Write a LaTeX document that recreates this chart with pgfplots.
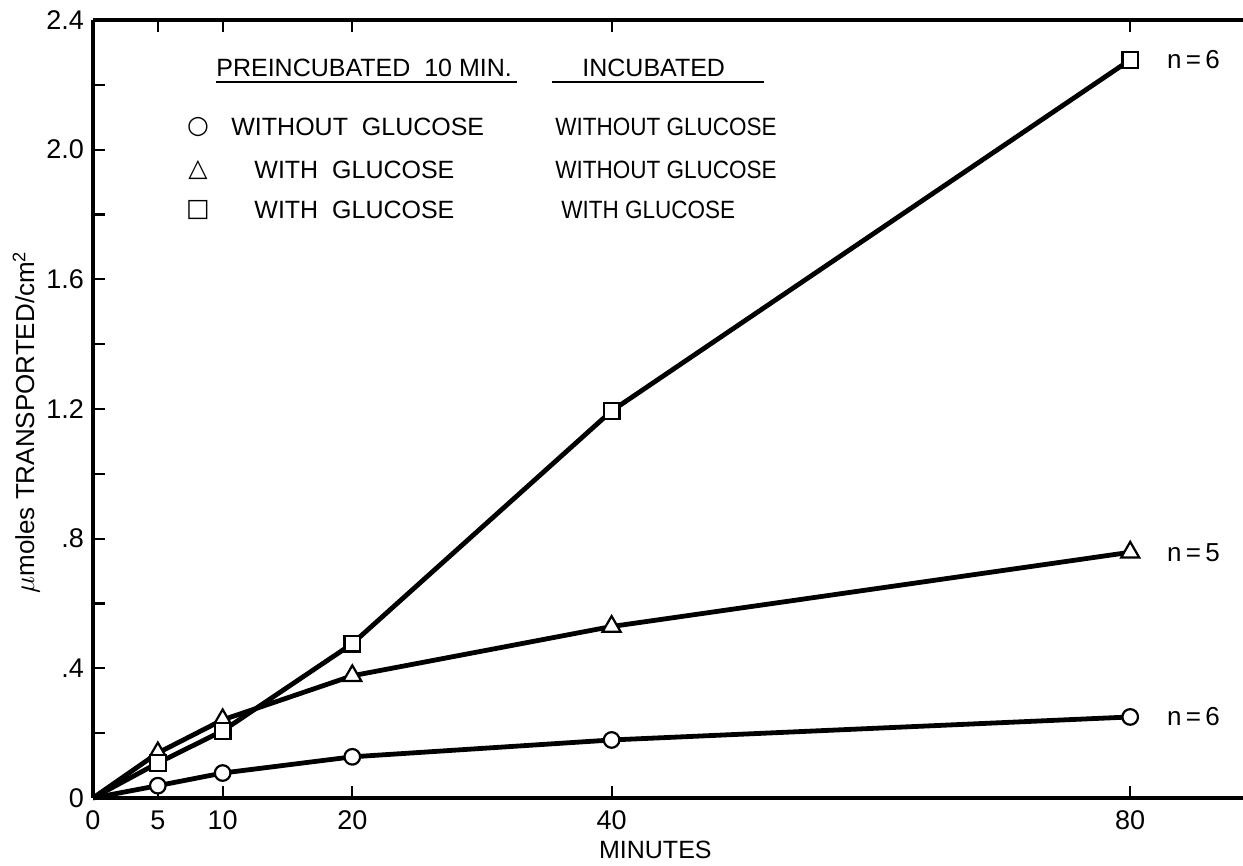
\documentclass[border=0pt]{standalone}
\usepackage{pgfplots}
\pgfplotsset{compat=1.18}
\usepackage{fontspec}
\setmainfont{Liberation Sans}
\newfontfamily\symfont{DejaVu Sans}

\begin{document}
\begin{tikzpicture}
\begin{axis}[
  scale only axis, width=575pt, height=389pt,
  xmin=0, xmax=88.7, ymin=0, ymax=2.4,
  axis x line*=box, axis y line*=left,
  xtick={0,5,10,20,40,80}, xtick pos=both,
  ytick={0,0.4,0.8,1.2,1.6,2.0,2.4},
  yticklabels={0,.4,.8,1.2,1.6,2.0,2.4},
  minor ytick={0.2,0.6,1.0,1.4,1.8,2.2},
  tick align=inside,
  major tick length=6pt, minor tick length=6pt,
  every tick/.style={black, line width=1.1pt},
  axis line style={line width=1.6pt},
  /pgf/number format/assume math mode=true,
  ticklabel style={font=\fontsize{13.5}{15}\selectfont},
  xticklabel style={yshift=-3pt},
  yticklabel style={xshift=-1pt},
  xlabel={MINUTES},
  xlabel style={font=\fontsize{12.5}{14}\selectfont, at={(axis description cs:0.489,-0.067)}, anchor=center},
  ylabel={{\fontsize{15}{15}\selectfont$\mu$}moles TRANSPORTED/cm\textsuperscript{2}},
  ylabel style={font=\fontsize{13}{14}\selectfont, at={(axis description cs:-0.058,0.483)}, anchor=center},
  clip=false,
]
\addplot[black, line width=2.4pt, mark=*, mark indices={2,3,4,5,6},
  mark options={fill=white, line width=1.1pt, mark size=3.9pt}]
  coordinates {(0,0) (5,0.038) (10,0.077) (20,0.127) (40,0.179) (80,0.25)};
\addplot[black, line width=2.4pt, mark=triangle*, mark indices={2,3,4,5,6},
  mark options={fill=white, line width=1.1pt, mark size=5.2pt}]
  coordinates {(0,0) (5,0.139) (10,0.241) (20,0.377) (40,0.529) (80,0.758)};
\addplot[black, line width=2.4pt, mark=square*, mark indices={2,3,4,5,6},
  mark options={fill=white, line width=1.1pt, mark size=3.9pt}]
  coordinates {(0,0) (5,0.108) (10,0.207) (20,0.476) (40,1.194) (80,2.277)};
\node[anchor=west, font=\fontsize{13}{14}\selectfont] at (axis cs:82.3,2.277) {n\,=\,6};
\node[anchor=west, font=\fontsize{13}{14}\selectfont] at (axis cs:82.3,0.758) {n\,=\,5};
\node[anchor=west, font=\fontsize{13}{14}\selectfont] at (axis cs:82.3,0.25) {n\,=\,6};
\end{axis}
% legend block
\begin{scope}[every node/.style={font=\fontsize{12.5}{14}\selectfont, inner sep=0pt}]
\node[anchor=west] at (61.5pt,365pt) {PREINCUBATED\ \ 10 MIN.};
\draw[line width=0.9pt] (61.5pt,358pt) -- (212pt,358pt);
\node[anchor=west] at (244.5pt,365pt) {INCUBATED};
\draw[line width=0.9pt] (229.5pt,358pt) -- (335.5pt,358pt);
\node at (52.5pt,335.5pt) {\symfont ○};
\node at (52.5pt,314pt) {\symfont △};
\node at (52.5pt,294pt) {\symfont □};
\node[anchor=west] at (69pt,335.5pt) {WITHOUT\ \ GLUCOSE};
\node[anchor=west] at (80.5pt,314pt) {WITH\ \ GLUCOSE};
\node[anchor=west] at (80.5pt,294pt) {WITH\ \ GLUCOSE};
\node[anchor=west, xscale=0.9] at (231pt,335.5pt) {WITHOUT GLUCOSE};
\node[anchor=west, xscale=0.9] at (231pt,314pt) {WITHOUT GLUCOSE};
\node[anchor=west, xscale=0.9] at (234pt,294pt) {WITH GLUCOSE};
\end{scope}
\pgfresetboundingbox
\path[use as bounding box] (-46.5pt,-34pt) rectangle (575pt,399pt);
\end{tikzpicture}
\end{document}
